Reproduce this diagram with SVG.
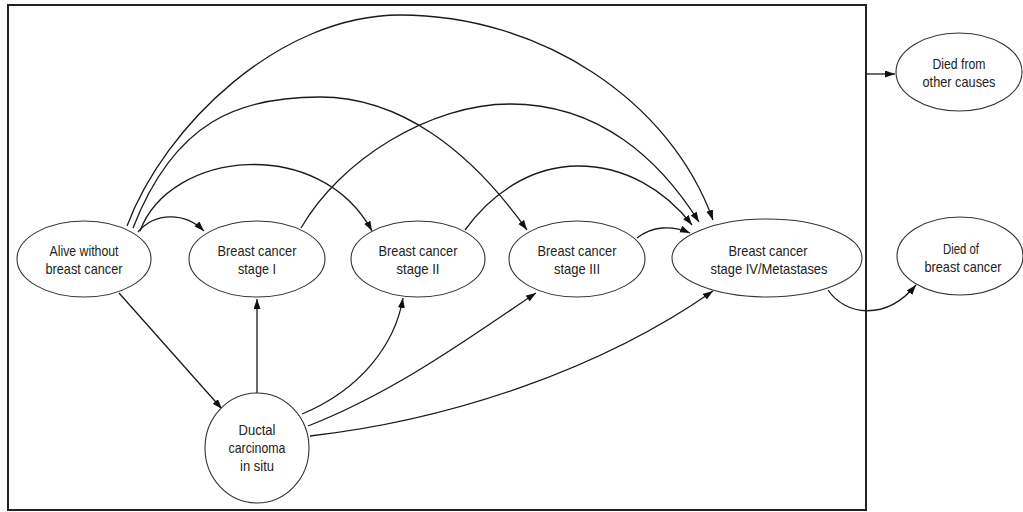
<svg xmlns="http://www.w3.org/2000/svg" width="1023" height="512" viewBox="0 0 1023 512">
<style>
.n{fill:#fff;stroke:#333;stroke-width:1.1}
.t{font-family:"Liberation Sans",Arial,sans-serif;font-size:15px;fill:#222;text-anchor:middle}
.c{fill:none;stroke:#1a1a1a;stroke-width:1.3;marker-end:url(#ah)}
.frame{fill:none;stroke:#222;stroke-width:2}
</style>
<defs>
<marker id="ah" markerUnits="userSpaceOnUse" markerWidth="11" markerHeight="8" refX="10" refY="3.5" orient="auto">
<path d="M0,0 L10,3.5 L0,7 z" fill="#111"/>
</marker>
</defs>
<rect width="1023" height="512" fill="#fff"/>
<rect class="frame" x="8" y="5" width="858" height="505"/>
<g id="connectors">
<path class="c" d="M138,232 C155,212 185,212 204,231"/>
<path class="c" d="M140,231 C170,150 320,135 372,231"/>
<path class="c" d="M133,228 C175,120 240,97 320,97 C400,97 470,150 527,230"/>
<path class="c" d="M127,226 C165,125 280,15 400,15 C540,15 670,100 713,220"/>
<path class="c" d="M301,228 C340,160 430,104 510,104 C600,104 660,160 699,222"/>
<path class="c" d="M465,230 C490,195 530,166 578,166 C625,166 665,190 692,225"/>
<path class="c" d="M637,238 C652,226 672,225 690,233"/>
<path class="c" d="M119,293 L222,409"/>
<path class="c" d="M257,393 L257,299"/>
<path class="c" d="M302,414 C360,390 395,345 403,298"/>
<path class="c" d="M308,426 C400,390 480,330 536,293"/>
<path class="c" d="M310,436 C450,420 600,370 713,291"/>
<path class="c" d="M828,290 C845,315 885,322 916,285"/>
<path class="c" d="M867,74 L895,74"/>
</g>
<g id="alive">
<ellipse class="n" cx="84" cy="259" rx="67" ry="38"/>
<text class="t" x="84" y="256" textLength="69" lengthAdjust="spacingAndGlyphs">Alive without</text>
<text class="t" x="84" y="274" textLength="77" lengthAdjust="spacingAndGlyphs">breast cancer</text>
</g>
<g id="stage1">
<ellipse class="n" cx="257" cy="259" rx="68" ry="38"/>
<text class="t" x="257" y="256" textLength="79" lengthAdjust="spacingAndGlyphs">Breast cancer</text>
<text class="t" x="257" y="274" textLength="38" lengthAdjust="spacingAndGlyphs">stage I</text>
</g>
<g id="stage2">
<ellipse class="n" cx="418" cy="259" rx="67" ry="38"/>
<text class="t" x="418" y="256" textLength="79" lengthAdjust="spacingAndGlyphs">Breast cancer</text>
<text class="t" x="418" y="274" textLength="43" lengthAdjust="spacingAndGlyphs">stage II</text>
</g>
<g id="stage3">
<ellipse class="n" cx="577" cy="259" rx="68" ry="38"/>
<text class="t" x="577" y="256" textLength="79" lengthAdjust="spacingAndGlyphs">Breast cancer</text>
<text class="t" x="577" y="274" textLength="46" lengthAdjust="spacingAndGlyphs">stage III</text>
</g>
<g id="stage4">
<ellipse class="n" cx="767" cy="258" rx="95" ry="39"/>
<text class="t" x="768" y="256" textLength="79" lengthAdjust="spacingAndGlyphs">Breast cancer</text>
<text class="t" x="769" y="274" textLength="117" lengthAdjust="spacingAndGlyphs">stage IV/Metastases</text>
</g>
<g id="dcis">
<ellipse class="n" cx="257" cy="448" rx="52" ry="55"/>
<text class="t" x="257" y="435" textLength="37" lengthAdjust="spacingAndGlyphs">Ductal</text>
<text class="t" x="257" y="453" textLength="57" lengthAdjust="spacingAndGlyphs">carcinoma</text>
<text class="t" x="257" y="471" textLength="34" lengthAdjust="spacingAndGlyphs">in situ</text>
</g>
<g id="died-other">
<ellipse class="n" cx="959" cy="72" rx="63" ry="39"/>
<text class="t" x="959" y="69" textLength="53" lengthAdjust="spacingAndGlyphs">Died from</text>
<text class="t" x="959" y="87" textLength="73" lengthAdjust="spacingAndGlyphs">other causes</text>
</g>
<g id="died-bc">
<ellipse class="n" cx="960" cy="256" rx="63" ry="39"/>
<text class="t" x="961" y="254" textLength="36" lengthAdjust="spacingAndGlyphs">Died of</text>
<text class="t" x="963" y="272" textLength="77" lengthAdjust="spacingAndGlyphs">breast cancer</text>
</g>
</svg>
